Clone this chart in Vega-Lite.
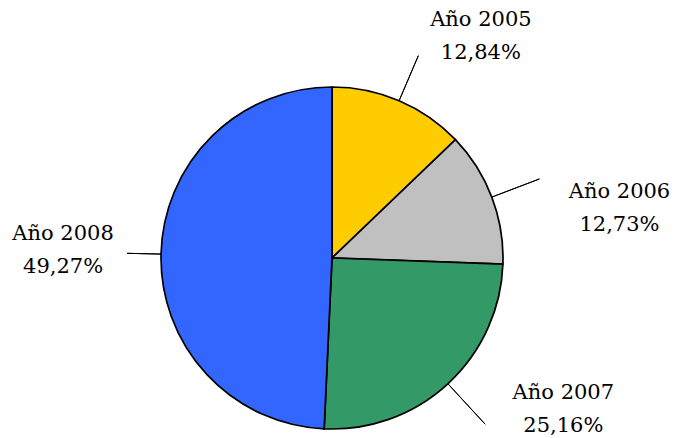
{
  "$schema": "https://vega.github.io/schema/vega-lite/v6.json",
  "width": 664,
  "height": 360,
  "autosize": {"type": "none"},
  "padding": {"left": 0, "top": 78, "right": 12, "bottom": 0},
  "background": "white",
  "config": {"view": {"stroke": null}},
  "data": {
    "values": [
      {"year": 2005, "txt": "Año 2005\n12,84%", "value": 12.84},
      {"year": 2006, "txt": "Año 2006\n12,73%", "value": 12.73},
      {"year": 2007, "txt": "Año 2007\n25,16%", "value": 25.16},
      {"year": 2008, "txt": "Año 2008\n49,27%", "value": 49.27}
    ]
  },
  "encoding": {
    "theta": {"field": "value", "type": "quantitative", "stack": true},
    "order": {"field": "year", "type": "quantitative", "sort": "ascending"}
  },
  "layer": [
    {
      "mark": {"type": "arc", "radius": 171, "stroke": "black", "strokeWidth": 1.7},
      "encoding": {
        "color": {
          "field": "year", "type": "nominal",
          "scale": {"domain": [2005, 2006, 2007, 2008], "range": ["#FFCC00", "#C0C0C0", "#339966", "#3366FF"]},
          "legend": null
        }
      }
    },
    {
      "mark": {"type": "arc", "radius": 220, "radius2": 171, "padAngle": 3, "filled": false, "stroke": "black", "strokeWidth": 1},
      "encoding": {"detail": {"field": "year"}, "strokeOpacity": {"condition": {"test": "datum.year === 2005", "value": 1}, "value": 0}}
    },
    {
      "mark": {"type": "arc", "radius": 222, "radius2": 171, "padAngle": 3, "filled": false, "stroke": "black", "strokeWidth": 1},
      "encoding": {"detail": {"field": "year"}, "strokeOpacity": {"condition": {"test": "datum.year === 2006", "value": 1}, "value": 0}}
    },
    {
      "mark": {"type": "arc", "radius": 226, "radius2": 171, "padAngle": 3, "filled": false, "stroke": "black", "strokeWidth": 1},
      "encoding": {"detail": {"field": "year"}, "strokeOpacity": {"condition": {"test": "datum.year === 2007", "value": 1}, "value": 0}}
    },
    {
      "mark": {"type": "arc", "radius": 205, "radius2": 171, "padAngle": 3, "filled": false, "stroke": "black", "strokeWidth": 1},
      "encoding": {"detail": {"field": "year"}, "strokeOpacity": {"condition": {"test": "datum.year === 2008", "value": 1}, "value": 0}}
    },
    {
      "mark": {"type": "text", "radius": 281, "thetaOffset": 0.155, "font": "DejaVu Serif", "fontSize": 21, "lineBreak": "\n", "lineHeight": 33, "align": "center", "baseline": "middle", "color": "black"},
      "encoding": {"detail": {"field": "year"}, "text": {"condition": {"test": "datum.year === 2005", "field": "txt"}, "value": ""}}
    },
    {
      "mark": {"type": "text", "radius": 295, "thetaOffset": 0.138, "font": "DejaVu Serif", "fontSize": 21, "lineBreak": "\n", "lineHeight": 33, "align": "center", "baseline": "middle", "color": "black"},
      "encoding": {"detail": {"field": "year"}, "text": {"condition": {"test": "datum.year === 2006", "field": "txt"}, "value": ""}}
    },
    {
      "mark": {"type": "text", "radius": 268, "thetaOffset": -0.297, "font": "DejaVu Serif", "fontSize": 21, "lineBreak": "\n", "lineHeight": 33, "align": "center", "baseline": "middle", "color": "black"},
      "encoding": {"detail": {"field": "year"}, "text": {"condition": {"test": "datum.year === 2007", "field": "txt"}, "value": ""}}
    },
    {
      "mark": {"type": "text", "radius": 270, "thetaOffset": 0.066, "font": "DejaVu Serif", "fontSize": 21, "lineBreak": "\n", "lineHeight": 33, "align": "center", "baseline": "middle", "color": "black"},
      "encoding": {"detail": {"field": "year"}, "text": {"condition": {"test": "datum.year === 2008", "field": "txt"}, "value": ""}}
    }
  ]
}
